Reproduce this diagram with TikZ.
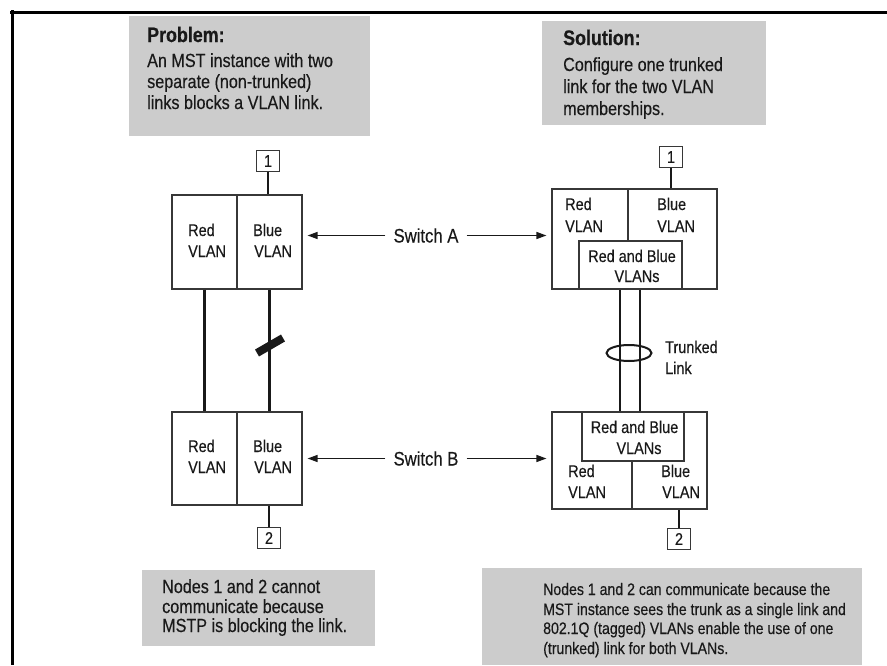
\documentclass[tikz,border=0pt]{standalone}
\usepackage{fontspec}
\setmainfont{Liberation Sans}[FakeStretch=0.85,UprightFeatures={FakeBold=0.35}]
\newfontfamily\headfont{Liberation Sans}[FakeStretch=0.85,BoldFeatures={FakeBold=0.7}]
\usetikzlibrary{arrows.meta,shapes.geometric}
\definecolor{boxgray}{RGB}{204,204,204}
\definecolor{edgegray}{RGB}{55,55,55}
\definecolor{inkc}{RGB}{25,25,25}
\begin{document}
\begin{tikzpicture}[x=1pt,y=-1pt,
  txt/.style={anchor=base west,inner sep=0pt,text=inkc,font=\fontsize{19}{21}\selectfont},
  txtsm/.style={anchor=base west,inner sep=0pt,text=inkc,font=\fontsize{16.6}{19}\selectfont},
  head/.style={anchor=base west,inner sep=0pt,text=inkc,font=\headfont\bfseries\fontsize{21}{24}\selectfont},
  cell/.style={anchor=base west,inner sep=0pt,text=inkc,font=\fontsize{17}{19}\selectfont},
  cellc/.style={anchor=base,inner sep=0pt,text=inkc,font=\fontsize{17}{19}\selectfont},
  vbox/.style={draw=edgegray,line width=1.1pt,inner sep=0pt,minimum width=#1},
  nbox/.style={draw=edgegray,line width=1pt,inner sep=0pt,minimum width=23pt,minimum height=21pt,text=inkc,font=\fontsize{17}{19}\selectfont},
  link/.style={line width=2.2pt,inkc},
  swlabel/.style={anchor=base,inner xsep=8pt,inner ysep=0pt,text=inkc,font=\fontsize{19.6}{22}\selectfont},
  arr/.style={line width=1.3pt,inkc,-{Triangle[length=10pt,width=7pt]},shorten >=5pt},
  graybox/.style={fill=boxgray,draw=none}
]
\useasboundingbox (0,0) rectangle (887,665);
% frame
\draw[line width=3pt] (10,12) -- (887,12);
\draw[line width=3pt] (12,10) -- (12,665);

% gray boxes
\fill[graybox] (129,16) rectangle (370,136);
\fill[graybox] (542,21) rectangle (766,125);
\fill[graybox] (142,570) rectangle (375,646);
\fill[graybox] (482,568) rectangle (862,665);

\node[head] (ph) at (147,42) {Problem:};
\node[txt] (p1) at (147,67) {An MST instance with two};
\node[txt] (p2) at (147,88) {separate (non-trunked)};
\node[txt] (p3) at (147,109) {links blocks a VLAN link.};

\node[head] (sh) at (563,45) {Solution:};
\node[txt] (s1) at (563,71) {Configure one trunked};
\node[txt] (s2) at (563,93) {link for the two VLAN};
\node[txt] (s3) at (563,115) {memberships.};

\node[txt] (b1) at (162,593) {Nodes 1 and 2 cannot};
\node[txt] (b2) at (162,613) {communicate because};
\node[txt] (b3) at (162,632) {MSTP is blocking the link.};

\node[txtsm] (c1) at (543,595) {Nodes 1 and 2 can communicate because the};
\node[txtsm] (c2) at (543,615) {MST instance sees the trunk as a single link and};
\node[txtsm] (c3) at (543,634) {802.1Q (tagged) VLANs enable the use of one};
\node[txtsm] (c4) at (543,654) {(trunked) link for both VLANs.};

% ---------- left diagram ----------
\node[vbox=65pt,minimum height=94pt] (laR) at (204.5,242) {};
\node[vbox=65pt,minimum height=94pt] (laB) at (269.5,242) {};
\node[vbox=65pt,minimum height=93pt] (lbR) at (204.5,458.5) {};
\node[vbox=65pt,minimum height=93pt] (lbB) at (269.5,458.5) {};

\node[cell] (laRt1) at (188,236) {Red};
\node[cell] (laRt2) at (188,257) {VLAN};
\node[cell] (laBt1) at (253,236) {Blue};
\node[cell] (laBt2) at (254,257) {VLAN};
\node[cell] (lbRt1) at (188,452) {Red};
\node[cell] (lbRt2) at (188,473) {VLAN};
\node[cell] (lbBt1) at (253,452) {Blue};
\node[cell] (lbBt2) at (254,473) {VLAN};

\node[nbox] (n1L) at (268,161) {1};
\node[nbox] (n2L) at (269,538) {2};
\draw[link] (n1L.south) -- (n1L.south |- laB.north);
\draw[link] (n2L.north) -- (n2L.north |- lbB.south);

\draw[link] (laR.south) -- (lbR.north);
\draw[link] (laB.south) -- (lbB.north);
\draw[line width=8pt,inkc] (257,353) -- (283,338);

% ---------- right diagram ----------
\node[vbox=165pt,minimum height=100pt] (raO) at (634.5,239) {};
\node[vbox=103pt,minimum height=48pt] (raI) at (630.5,265) {};
\coordinate (raDt) at (628,189);
\draw[draw=edgegray,line width=1.1pt] (raDt) -- (raDt |- raI.north);

\node[vbox=155pt,minimum height=97pt] (rbO) at (629.5,460.5) {};
\node[vbox=102pt,minimum height=49pt] (rbI) at (633,436.5) {};
\coordinate (rbDb) at (632,509);
\draw[draw=edgegray,line width=1.1pt] (rbDb) -- (rbDb |- rbI.south);

\node[cell] (raRt1) at (565,210) {Red};
\node[cell] (raRt2) at (565,232) {VLAN};
\node[cell] (raBt1) at (657,210) {Blue};
\node[cell] (raBt2) at (657,232) {VLAN};
\node[cellc] (raIt1) at (632,262) {Red and Blue};
\node[cellc] (raIt2) at (637,282) {VLANs};

\node[cellc] (rbIt1) at (634.5,433) {Red and Blue};
\node[cellc] (rbIt2) at (639,454) {VLANs};
\node[cell] (rbRt1) at (568,477) {Red};
\node[cell] (rbRt2) at (568,498) {VLAN};
\node[cell] (rbBt1) at (661,477) {Blue};
\node[cell] (rbBt2) at (662,498) {VLAN};

\node[nbox] (n1R) at (671,157) {1};
\node[nbox] (n2R) at (679,539) {2};
\draw[link] (n1R.south) -- (n1R.south |- raO.north);
\draw[link] (n2R.north) -- (n2R.north |- rbO.south);

\draw[link] ([xshift=-10.5pt]raI.south) -- ([xshift=-10.5pt]raI.south |- rbI.north);
\draw[link] ([xshift=9.5pt]raI.south) -- ([xshift=9.5pt]raI.south |- rbI.north);
\node[draw=inkc,ellipse,line width=2pt,minimum width=45pt,minimum height=16pt,inner sep=0pt] (trunk) at (629,353) {};
\node[cell] (tr1) at (665,353) {Trunked};
\node[cell] (tr2) at (665,374) {Link};

% ---------- switch labels ----------
\node[swlabel] (swA) at (426,242.5) {Switch A};
\node[swlabel] (swB) at (426,465.5) {Switch B};
\draw[arr] (swA.west) -- (swA.west -| laB.east);
\draw[arr] (swA.east) -- (swA.east -| raO.west);
\draw[arr] (swB.west) -- (swB.west -| lbB.east);
\draw[arr] (swB.east) -- (swB.east -| rbO.west);
\end{tikzpicture}
\end{document}
